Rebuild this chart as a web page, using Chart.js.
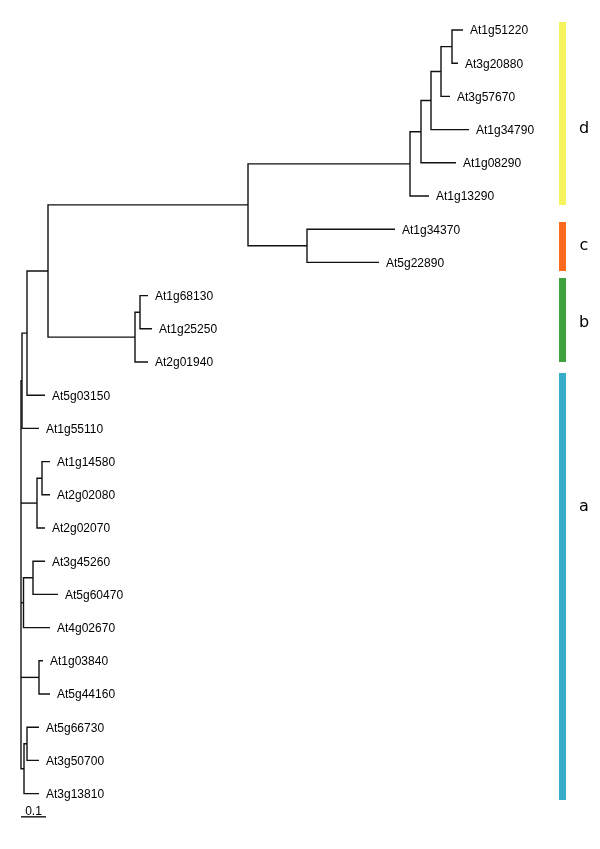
<!DOCTYPE html>
<html>
<head>
<meta charset="utf-8">
<script src="https://cdn.jsdelivr.net/npm/chart.js@4.4.1/dist/chart.umd.min.js"></script>
<style>
  html, body { margin: 0; padding: 0; background: #ffffff; }
  #wrap { width: 600px; height: 849px; position: relative; }
</style>
</head>
<body>
<div id="wrap"><canvas id="tree"></canvas></div>
<script>
// Hojas, de arriba abajo
const leafNames = [
  'At1g51220','At3g20880','At3g57670','At1g34790','At1g08290','At1g13290',
  'At1g34370','At5g22890',
  'At1g68130','At1g25250','At2g01940',
  'At5g03150','At1g55110','At1g14580','At2g02080','At2g02070',
  'At3g45260','At5g60470','At4g02670','At1g03840','At5g44160',
  'At5g66730','At3g50700','At3g13810'
];
// distancia desde la raiz hasta cada hoja
const leafDepth = [
  1.768, 1.748, 1.716, 1.792, 1.740, 1.632,
  1.496, 1.432,
  0.508, 0.524, 0.508,
  0.096, 0.072, 0.116, 0.116, 0.096,
  0.096, 0.148, 0.116, 0.088, 0.116,
  0.072, 0.072, 0.072
];
// nodos internos: profundidad e hijos (numero = hoja, 'nX' = nodo)
const nodeIds = ['n1','n2','n3','n4','n5','nc','ndc','nb1','nb2','nbcd','ntop','nup',
                 'na1','na2','na3','na4','na5','na6','na7','root'];
const nodeDepth = [1.724, 1.680, 1.640, 1.600, 1.556, 1.144, 0.908, 0.476, 0.456, 0.108, 0.024, 0.004,
                   0.084, 0.064, 0.048, 0.010, 0.072, 0.024, 0.012, 0.0];
const nodeChildren = [
  [0, 1], ['n1', 2], ['n2', 3], ['n3', 4], ['n4', 5],
  [6, 7], ['n5', 'nc'],
  [8, 9], ['nb1', 10], ['ndc', 'nb2'], ['nbcd', 11], ['ntop', 12],
  [13, 14], ['na1', 15], [16, 17], ['na3', 18], [19, 20], [21, 22], ['na6', 23],
  ['nup', 'na2', 'na4', 'na5', 'na7']
];
// grupos
const groupNames = ['d', 'c', 'b', 'a'];
const groupFrom = [-0.24, 5.78, 7.47, 10.33];
const groupTo = [5.27, 7.26, 10.0, 23.19];
const groupLabelAt = [2.98, 6.5, 8.83, 14.37];
const groupColors = ['#f6f45c', '#fa6a1c', '#3ea13e', '#37adc9'];
const scaleBarLength = 0.1;

// posicion vertical: hojas en su indice, nodos en el medio de sus hijos
const nodeY = {};
function yOf(c) {
  if (typeof c === 'number') return c;
  if (nodeY[c] !== undefined) return nodeY[c];
  const i = nodeIds.indexOf(c);
  const ch = nodeChildren[i];
  nodeY[c] = (yOf(ch[0]) + yOf(ch[ch.length - 1])) / 2;
  return nodeY[c];
}
function depthOf(c) {
  return typeof c === 'number' ? leafDepth[c] : nodeDepth[nodeIds.indexOf(c)];
}

const lineColor = '#111111';
const datasets = [];
function seg(points, color, width) {
  datasets.push({
    data: points, showLine: true, borderColor: color, borderWidth: width,
    pointRadius: 0, borderCapStyle: 'butt', borderJoinStyle: 'miter', fill: false
  });
}
nodeIds.forEach((id, i) => {
  const D = nodeDepth[i];
  const ch = nodeChildren[i];
  const first = ch[0], last = ch[ch.length - 1];
  seg([
    { x: depthOf(first), y: yOf(first) },
    { x: D, y: yOf(first) },
    { x: D, y: yOf(last) },
    { x: depthOf(last), y: yOf(last) }
  ], lineColor, 1.4);
  ch.slice(1, -1).forEach(c => {
    seg([{ x: D, y: yOf(c) }, { x: depthOf(c), y: yOf(c) }], lineColor, 1.4);
  });
});
// barras de color
const barX = 2.166;
groupNames.forEach((g, i) => {
  seg([{ x: barX, y: groupFrom[i] }, { x: barX, y: groupTo[i] }], groupColors[i], 7);
});
// barra de escala
const scaleY = 23.70;
seg([{ x: 0, y: scaleY }, { x: scaleBarLength, y: scaleY }], lineColor, 1.4);

const labelsPlugin = {
  id: 'treeLabels',
  afterDatasetsDraw(chart) {
    const ctx = chart.ctx;
    const xs = chart.scales.x, ys = chart.scales.y;
    ctx.save();
    ctx.fillStyle = '#000';
    ctx.font = "12px 'Liberation Sans', Arial, sans-serif";
    ctx.textBaseline = 'middle';
    ctx.textAlign = 'left';
    leafNames.forEach((n, i) => {
      ctx.fillText(n, xs.getPixelForValue(leafDepth[i]) + 7, ys.getPixelForValue(i) + 1);
    });
    ctx.font = "16px 'DejaVu Sans', sans-serif";
    ctx.textAlign = 'center';
    groupNames.forEach((g, i) => {
      ctx.fillText(g, 584, ys.getPixelForValue(groupLabelAt[i]));
    });
    ctx.font = "12px 'Liberation Sans', Arial, sans-serif";
    ctx.textBaseline = 'alphabetic';
    ctx.fillText(String(scaleBarLength), xs.getPixelForValue(scaleBarLength / 2), ys.getPixelForValue(scaleY) - 2);
    ctx.restore();
  }
};

new Chart(document.getElementById('tree'), {
  type: 'scatter',
  data: { datasets },
  options: {
    responsive: true,
    maintainAspectRatio: false,
    animation: false,
    layout: { padding: 0 },
    scales: {
      x: { type: 'linear', display: false, min: -0.084, max: 2.316 },
      y: { type: 'linear', display: false, reverse: true, min: -0.904, max: 24.669 }
    },
    plugins: { legend: { display: false }, tooltip: { enabled: false } }
  },
  plugins: [labelsPlugin]
});
</script>
</body>
</html>
